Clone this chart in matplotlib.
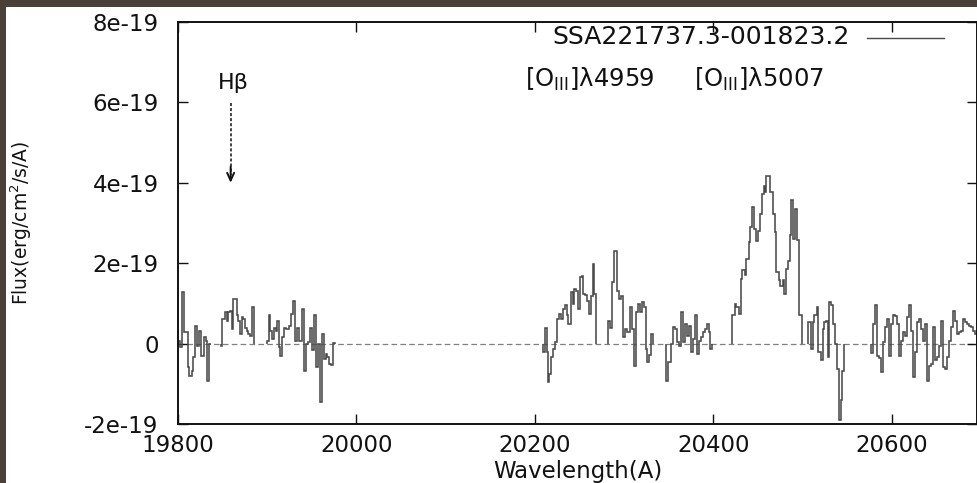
import numpy as np
import matplotlib
matplotlib.use("Agg")
import matplotlib.pyplot as plt
from matplotlib.patches import Rectangle

plt.rcParams['font.family'] = ['DejaVu Sans']
plt.rcParams['mathtext.fontset'] = 'dejavusans'

# Spectrum of SSA221737.3-001823.2: bin edges (Angstrom) and flux in units of
# 1e-19 erg/cm^2/s/A, one pair of arrays per unmasked stretch of the spectrum.
seg1_edges = [19800.5, 19802.6, 19804.8, 19807.1, 19810.8, 19812.3, 19815.3, 19817.1,
              19819.0, 19821.3, 19823.5, 19825.7, 19829.5, 19831.0, 19832.5, 19834.7,
              19836.9]
seg1_flux = [0.06, -0.08, 1.28, 0.28, -0.59, -0.80, -0.67, -0.34, 0.45, -0.05, 0.32,
             -0.30, 0.16, 0.07, -0.92, -0.01]

seg2_edges = [19847.8, 19849.6, 19852.6, 19854.5, 19856.4, 19858.2, 19860.1, 19862.0,
              19865.7, 19867.6, 19869.4, 19871.3, 19873.2, 19875.0, 19876.9, 19878.8,
              19880.6, 19883.3, 19885.1]
seg2_flux = [-0.05, 0.61, 0.78, 0.55, 0.78, 0.82, 0.36, 1.11, 0.70, 0.57, 0.24, 0.66,
             0.62, 0.40, 0.32, 0.25, 0.20, 0.90]

seg3_edges = [19899.3, 19901.6, 19903.1, 19904.9, 19907.5, 19909.8, 19911.3, 19912.8,
              19914.3, 19916.5, 19918.7, 19921.0, 19924.0, 19926.2, 19928.4, 19930.7,
              19932.9, 19935.9, 19938.5, 19941.1, 19943.4, 19945.6, 19947.9, 19950.1,
              19952.4, 19954.6, 19956.8, 19959.1, 19961.7, 19963.9, 19965.8, 19967.3,
              19969.5, 19971.8, 19974.0, 19975.9]
seg3_flux = [0.07, 0.70, 0.32, 0.12, 0.40, 0.32, 0.57, -0.09, -0.30, 0.16, 0.40, 0.36,
             0.45, 0.74, 1.07, 0.07, 0.40, 0.07, 0.86, -0.67, -0.01, 0.03, 0.40, -0.17,
             0.70, -0.59, -0.01, -1.46, 0.24, -0.38, -0.25, -0.33, -0.50, -0.54, 0.02]

seg4_edges = [20209.3, 20211.2, 20213.1, 20214.6, 20216.1, 20217.6, 20219.8, 20222.0,
              20224.3, 20226.5, 20228.8, 20231.0, 20233.2, 20235.5, 20236.6, 20240.0,
              20242.2, 20243.7, 20245.9, 20248.2, 20250.4, 20252.7, 20254.2, 20256.4,
              20258.6, 20260.1, 20262.4, 20264.6, 20266.1, 20268.4]
seg4_flux = [-0.22, 0.39, -0.22, -0.96, -0.75, -0.34, -0.13, 0.03, 0.60, 0.74, 0.60,
             0.86, 0.95, 0.70, 0.49, 1.28, 0.99, 1.36, 1.32, 0.86, 1.65, 1.69, 1.24,
             1.20, 1.07, 0.74, 1.19, 1.98, 1.24]

seg5_edges = [20282.2, 20284.0, 20285.9, 20288.5, 20291.5, 20293.8, 20296.0, 20298.2,
              20300.9, 20303.5, 20306.5, 20308.7, 20310.9, 20313.2, 20315.4, 20317.7,
              20319.9, 20322.1, 20324.4, 20325.9, 20328.1, 20330.4, 20332.6]
seg5_flux = [0.57, 0.40, 1.53, 2.31, 1.32, 1.11, 1.19, 0.16, 0.36, 0.30, 0.90, 0.36,
             -0.55, 0.78, 0.99, 0.78, 1.03, 0.90, -0.13, -0.45, -0.28, 0.24]

seg6_edges = [20346.8, 20349.4, 20352.0, 20354.3, 20356.5, 20358.7, 20361.0, 20363.2,
              20365.5, 20367.7, 20369.9, 20372.2, 20374.4, 20376.7, 20378.9, 20381.2,
              20383.4, 20385.6, 20387.9, 20390.1, 20392.4, 20394.6, 20396.1, 20398.3]
seg6_flux = [-0.92, -0.46, 0.00, 0.41, 0.37, 0.03, -0.05, 0.78, 0.03, 0.49, 0.20, 0.45,
             -0.22, 0.12, 0.70, -0.26, 0.07, 0.16, 0.28, 0.36, 0.49, 0.28, -0.13]

seg7_edges = [20421.4, 20423.7, 20425.9, 20428.2, 20430.4, 20432.6, 20434.9, 20437.1,
              20439.4, 20441.6, 20443.8, 20445.3, 20447.6, 20449.8, 20452.1, 20454.3,
              20456.5, 20458.0, 20459.5, 20461.8, 20464.0, 20466.3, 20468.5, 20470.7,
              20473.0, 20475.2, 20477.5, 20479.7, 20481.2, 20483.4, 20485.7, 20487.2,
              20489.4, 20491.7, 20493.9, 20495.4, 20498.8]
seg7_flux = [0.70, 0.99, 0.90, 0.74, 1.61, 1.82, 1.70, 2.11, 2.52, 2.89, 3.39, 2.85,
             2.56, 2.81, 3.23, 3.72, 3.93, 3.76, 4.18, 4.18, 3.76, 3.23, 2.77, 1.77,
             1.57, 1.44, 1.57, 1.24, 1.86, 2.06, 2.69, 3.56, 2.60, 3.35, 2.57, 0.70]

seg8_edges = [20506.2, 20508.9, 20511.1, 20513.3, 20515.6, 20517.8, 20520.1, 20522.3,
              20524.5, 20526.0, 20528.3, 20529.8, 20532.0, 20534.3, 20536.5, 20538.7,
              20541.0, 20542.5, 20544.7, 20546.2]
seg8_flux = [0.53, -0.13, 0.53, 0.70, 0.90, -0.22, -0.42, 0.36, 0.53, 0.57, -0.34,
             1.03, 0.95, 0.49, -0.01, -0.63, -1.91, -1.41, -0.67]

seg9_edges = [20577.2, 20579.1, 20581.3, 20583.6, 20585.8, 20588.0, 20590.3, 20592.5,
              20594.8, 20597.0, 20599.2, 20601.5, 20603.7, 20606.0, 20608.2, 20610.5,
              20612.7, 20614.9, 20617.2, 20619.4, 20621.7, 20623.9, 20626.1, 20628.4,
              20630.6, 20632.9, 20635.1, 20637.3, 20639.6, 20641.8, 20644.1, 20646.3,
              20648.5, 20650.8, 20653.0, 20655.3, 20657.5, 20659.8, 20662.0, 20664.2,
              20666.5, 20668.7, 20671.0, 20673.2, 20675.4, 20677.7, 20679.9, 20682.2,
              20684.4, 20686.6, 20688.9, 20691.1, 20693.4, 20695.6, 20702.0]
seg9_flux = [-0.23, 0.49, 0.95, -0.30, -0.35, -0.71, 0.03, 0.41, 0.61, -0.30, 0.49,
             0.70, 0.68, 0.49, -0.30, 0.07, 0.28, 0.20, 0.66, 0.95, 0.32, -0.84, -0.22,
             0.53, 0.61, 0.36, 0.07, 0.49, -0.92, -0.55, -0.51, 0.41, -0.42, -0.34,
             -0.05, 0.57, -0.59, -0.63, -0.34, 0.07, 0.41, 0.82, 0.57, 0.24, 0.28, 0.32,
             0.61, 0.53, 0.49, 0.45, 0.41, 0.32, 0.24, -0.55]

segments = [(seg1_edges, seg1_flux), (seg2_edges, seg2_flux), (seg3_edges, seg3_flux),
            (seg4_edges, seg4_flux), (seg5_edges, seg5_flux), (seg6_edges, seg6_flux),
            (seg7_edges, seg7_flux), (seg8_edges, seg8_flux), (seg9_edges, seg9_flux)]

flux_unit = 1e-19
xticks = [19800, 20000, 20200, 20400, 20600]
yticks = [-2e-19, 0, 2e-19, 4e-19, 6e-19, 8e-19]
ytick_labels = ['-2e-19', '0', '2e-19', '4e-19', '6e-19', '8e-19']

object_name = 'SSA221737.3-001823.2'
hbeta_wave = 19859
hbeta_label = 'Hβ'
oiii_4959_label = r'[O$_{\rm III}$]λ4959'
oiii_5007_label = r'[O$_{\rm III}$]λ5007'

W, H = 978, 483
fig = plt.figure(figsize=(W / 100, H / 100), dpi=100)
fig.patch.set_facecolor('#4b4037')
# white page area inside the dark frame
fig.add_artist(Rectangle((6 / W, 0), 1, 1 - 7 / H, transform=fig.transFigure,
                         facecolor='white', edgecolor='none', zorder=-10))

ax = fig.add_axes([178 / W, 1 - 424 / H, (977.5 - 178) / W, (424 - 22) / H])
ax.set_zorder(1)
ax.set_facecolor('white')

# zero level
ax.axhline(0, color='#808080', lw=0.9, dashes=(4.5, 2.6), zorder=1)

spec_color = '#4a4a4a'
for edges, vals in segments:
    assert len(edges) == len(vals) + 1
    ax.stairs(np.asarray(vals) * flux_unit, edges, baseline=0, fill=False,
              color=spec_color, lw=1.15, zorder=2)

ax.set_xlim(19800, 20696)
ax.set_ylim(-2e-19, 8e-19)
ax.set_xticks(xticks)
ax.set_xticklabels([str(t) for t in xticks])
ax.set_yticks(yticks)
ax.set_yticklabels(ytick_labels)

ax.tick_params(direction='in', length=7, width=1.0, top=True, right=True,
               labelsize=16.5, colors='#111111')
ax.tick_params(axis='y', pad=14)
ax.tick_params(axis='x', pad=7)
for s in ax.spines.values():
    s.set_linewidth(1.4)
    s.set_color('#111111')

ax.set_xlabel('Wavelength(A)', fontsize=16.5, color='#111111', va='center')
ax.xaxis.set_label_coords(0.5, -0.117)
ax.set_ylabel(r'Flux(erg/cm$^2$/s/A)', fontsize=13.5, color='#111111', va='center')
ax.yaxis.set_label_coords(-0.196, 0.5)

# legend-style key in the upper right
ax.text(20552.9, 7.46e-19, object_name, ha='right', va='baseline', fontsize=18,
        color='#111111')
ax.plot([20572, 20659], [7.61e-19, 7.61e-19], color=spec_color, lw=1.0)

# emission line markers
ax.text(19862.0, 6.49e-19, hbeta_label, ha='center', va='center', fontsize=16,
        color='#111111')
ax.plot([hbeta_wave, hbeta_wave], [5.98e-19, 4.2e-19], color='#111111', lw=1.1,
        dashes=(2.0, 1.3))
ax.annotate('', xy=(hbeta_wave, 4.0e-19), xytext=(hbeta_wave, 4.4e-19),
            arrowprops=dict(arrowstyle='->,head_length=0.55,head_width=0.25',
                            color='#111111', lw=1.4, shrinkA=0, shrinkB=0))
ax.text(20188.8, 6.38e-19, oiii_4959_label, ha='left', va='baseline', fontsize=17.5,
        color='#111111')
ax.text(20378.0, 6.38e-19, oiii_5007_label, ha='left', va='baseline', fontsize=17.5,
        color='#111111')

fig.savefig('out.png', dpi=100, facecolor=fig.get_facecolor())
